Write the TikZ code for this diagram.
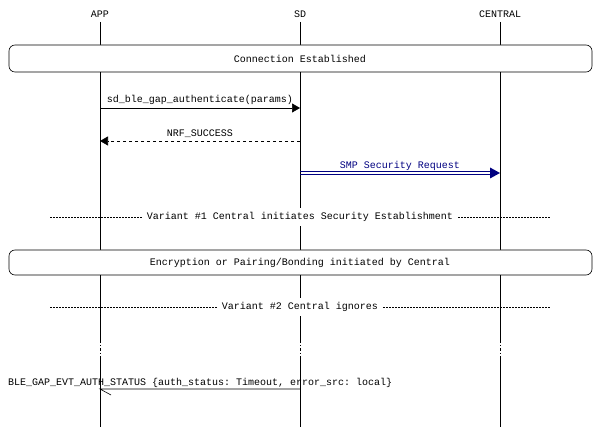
\documentclass[tikz,border=0pt]{standalone}
\usepackage{fontspec}
\setmonofont{Liberation Mono}
\usetikzlibrary{arrows.meta}
\definecolor{navy}{RGB}{0,0,128}
\tikzset{lbl/.style={font=\ttfamily\fontsize{10}{11}\selectfont,inner sep=1pt},
  life/.style={line width=0.6pt},
  boxr/.style={draw,rounded corners=6pt,line width=0.6pt},
  sep/.style={line width=0.5pt,dash pattern=on 2pt off 1pt},
  tip/.style={-{Triangle[length=8pt,width=9pt]}}}
\begin{document}
\begin{tikzpicture}[x=1pt,y=-1pt]
\useasboundingbox (0,0) rectangle (600,427);
\foreach \n/\x/\t in {app/100/APP,sd/300/SD,cen/500/CENTRAL}{
  \node[lbl] (\n) at (\x,14) {\t};
  \coordinate (\n a) at (\x,22);
  \coordinate (\n b) at (\x,340);
  \coordinate (\n c) at (\x,357);
  \coordinate (\n d) at (\x,427);
  \draw[life] (\n a) -- (\n b);
  \draw[life,dash pattern=on 3pt off 2pt on 1pt off 2pt] (\n b) -- (\n c);
  \draw[life] (\n c) -- (\n d);
}
\draw[boxr,fill=white] (9,45) rectangle (592,72);
\node[lbl] (b1) at (300,59) {Connection Established};
\coordinate (a1) at (100,108); \coordinate (s1) at (300,108);
\draw[life,tip] (a1) -- (s1) node[lbl,midway,above=2pt] {sd\_ble\_gap\_authenticate(params)};
\coordinate (a2) at (100,141); \coordinate (s2) at (300,141);
\draw[life,dashed,tip] (s2) -- (a2) node[lbl,midway,above=2pt] {NRF\_SUCCESS};
\coordinate (s3) at (300,173); \coordinate (c3) at (500,173);
\draw[navy,line width=0.8pt] ([yshift=-1.3pt]s3) -- ([yshift=-1.3pt,xshift=-8pt]c3);
\draw[navy,line width=0.8pt] ([yshift=1.3pt]s3) -- ([yshift=1.3pt,xshift=-8pt]c3);
\fill[navy] (c3) -- ++(-10,-5.5) -- ++(0,11) -- cycle;
\node[lbl,text=navy] at (400,166) {SMP Security Request};
\coordinate (v1l) at (50,217); \coordinate (v1r) at (550,217);
\draw[sep] (v1l) -- (v1r);
\node[lbl,fill=white,inner sep=4pt] (v1) at (300,217) {Variant \#1 Central initiates Security Establishment};
\draw[boxr,fill=white] (9,250) rectangle (592,275);
\node[lbl] (b2) at (300,263) {Encryption or Pairing/Bonding initiated by Central};
\coordinate (v2l) at (50,307); \coordinate (v2r) at (550,307);
\draw[sep] (v2l) -- (v2r);
\node[lbl,fill=white,inner sep=4pt] (v2) at (300,307) {Variant \#2 Central ignores};
\coordinate (s4) at (300,389); \coordinate (a4) at (100,389);
\draw[life] (s4) -- (a4) -- (111,395);
\node[lbl,anchor=west] (l4) at (7,383) {BLE\_GAP\_EVT\_AUTH\_STATUS \{auth\_status: Timeout, error\_src: local\}};
\end{tikzpicture}
\end{document}
